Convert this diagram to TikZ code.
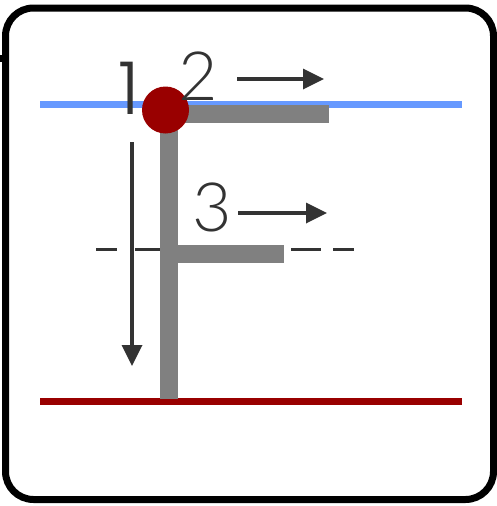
\documentclass[tikz,border=0pt]{standalone}
\usepackage{fontspec}
\setmainfont{Lato Light}
\newfontfamily\onefont{Poppins Light}
\usetikzlibrary{arrows.meta}
\definecolor{blueln}{HTML}{6699FF}
\definecolor{redln}{HTML}{990000}
\definecolor{barg}{HTML}{808080}
\definecolor{ink}{HTML}{333333}
\begin{document}
\begin{tikzpicture}[x=1pt,y=-1pt,
  digit/.style={inner sep=0pt, anchor=base, text=ink, font=\fontsize{68}{68}\selectfont},
  motion/.style={draw=ink, line width=3.5pt, -{Triangle[length=21pt,width=20pt]}},
  bar/.style={fill=barg}]
\useasboundingbox (0,0) rectangle (497,506);
\fill[white] (0,0) rectangle (497,506);
\draw[line width=7pt, rounded corners=28pt] (5.5,8) rectangle (493.5,499.5);
\fill (0,55) rectangle (3,62);
% lines
\coordinate (bl) at (40,104.7); \coordinate (br) at (462,104.7);
\coordinate (rl) at (40,401); \coordinate (rr) at (462,401);
\draw[blueln, line width=7.5pt] (bl) -- (br);
\draw[redln, line width=7pt] (rl) -- (rr);
\coordinate (dl) at (96,249); \coordinate (dr) at (354,249);
\draw[ink, line width=3pt, dash pattern=on 21pt off 18pt on 140pt off 16pt on 30pt off 12pt on 21pt off 10pt] (dl) -- (dr);
% F shape
\fill[bar] (160,105) rectangle (178,399);
\fill[bar] (160,105) rectangle (329,123);
\fill[bar] (160,245) rectangle (284,263);
% labels
\node[digit, font=\onefont\fontsize{73}{73}\selectfont] (n1) at (129,114) {1};
\fill[redln] (165.5,110) circle (23.5);
\node[digit] (n2) at (198,100) {2};
\node[digit] (n3) at (212,231) {3};
% arrows
\coordinate (a1s) at (132,142); \coordinate (a1e) at (132,366);
\draw[motion] (a1s) -- (a1e);
\coordinate (a2s) at (237,79); \coordinate (a2e) at (324,79);
\draw[motion] (a2s) -- (a2e);
\coordinate (a3s) at (238,213); \coordinate (a3e) at (327,213);
\draw[motion] (a3s) -- (a3e);
\end{tikzpicture}
\end{document}
